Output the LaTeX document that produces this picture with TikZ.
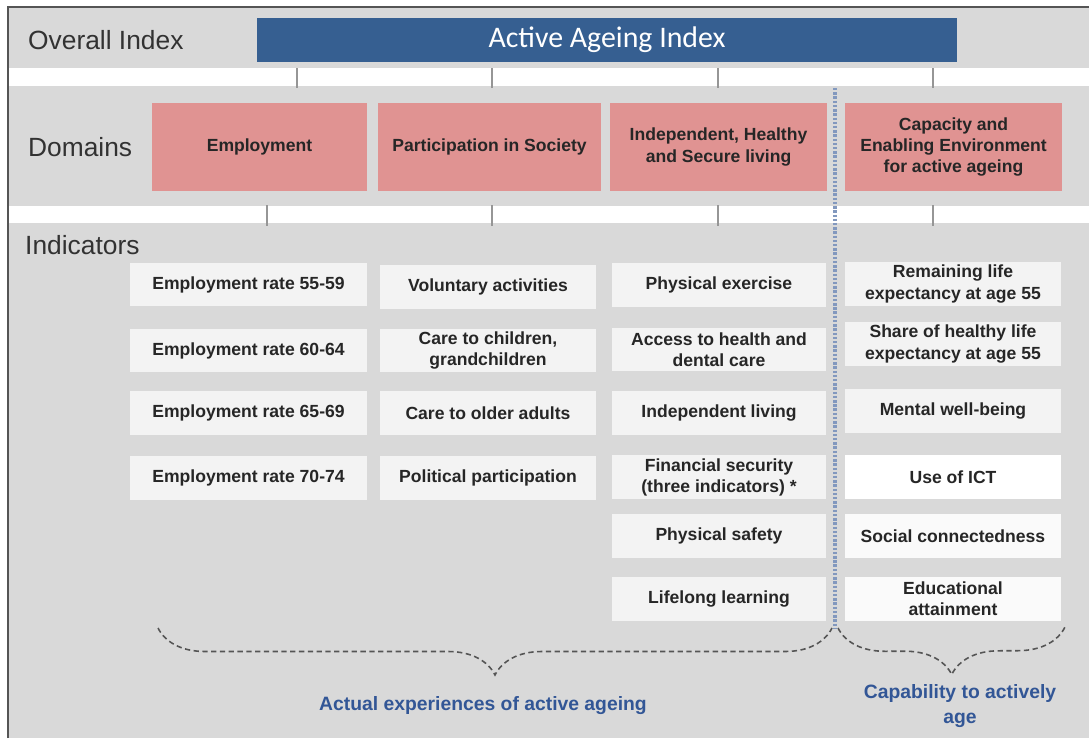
\documentclass[tikz,border=0pt]{standalone}
\usepackage{fontspec}
\setmainfont{Liberation Sans}
\newfontfamily\carlito{Carlito}
\usetikzlibrary{decorations.pathreplacing, positioning}

\definecolor{bggray}{RGB}{217,217,217}
\definecolor{framegray}{RGB}{85,85,85}
\definecolor{barblue}{RGB}{54,95,145}
\definecolor{dompink}{RGB}{224,147,146}
\definecolor{indgray}{RGB}{243,243,243}
\definecolor{labblue}{RGB}{50,86,150}
\definecolor{dotblue}{RGB}{130,152,190}
\definecolor{tickgray}{RGB}{150,150,150}
\definecolor{headgray}{RGB}{50,50,50}

\tikzset{
  head/.style={anchor=west, text=headgray, font=\fontsize{15}{18}\selectfont},
  dombox/.style={fill=dompink, minimum height=1.76cm, align=center, inner sep=1pt,
    text=black!85, font=\fontsize{10}{12}\selectfont\bfseries},
  indbox/.style={fill=indgray, minimum height=0.87cm, align=center, inner sep=1pt,
    text=black!85, font=\fontsize{10}{12}\selectfont\bfseries},
  tick/.style={tickgray, line width=0.6pt},
  curly/.style={decorate, decoration={brace, mirror, amplitude=0.94cm},
    framegray, line width=0.9pt, dash pattern=on 3pt off 2pt},
  capt/.style={text=labblue, align=center, font=\fontsize{11}{14}\selectfont\bfseries}
}

\begin{document}
\begin{tikzpicture}[x=0.02cm, y=-0.02cm]
\useasboundingbox (0,0) rectangle (1089,738);

% panels
\fill [white] (0,0) rectangle (1089,738);
\fill [bggray] (8,8) rectangle (1089,738);
\fill [white] (9,68) rectangle (1089,86);
\fill [white] (9,206) rectangle (1089,223);
\draw [framegray, line width=1.2pt] (8,738) -- (8,7) -- (1089,7);

\foreach \x in {297,492,718,933}
  \draw [tick] (\x,68) -- (\x,88);
\foreach \x in {267,492,718,933}
  \draw [tick] (\x,205) -- (\x,226);

% row titles
\node [head] (overall) at (22,40) {Overall Index};
\node [head] (domains) at (22,147) {Domains};
\node [head] (indicators) at (19,245) {Indicators};

% overall index
\node [fill=barblue, minimum width=14cm, minimum height=0.88cm, text=white,
  font=\carlito\fontsize{17}{20}\selectfont] (aai) at (607,40) {Active Ageing Index};

% domains
\node [dombox, minimum width=4.3cm] (employ) at (259.5,147) {Employment};
\node [dombox, minimum width=4.46cm] (partic) at (489.5,147) {Participation in Society};
\node [dombox, minimum width=4.34cm] (indep) at (718.5,147) {Independent, Healthy\\and Secure living};
\node [dombox, minimum width=4.34cm] (capac) at (953.5,147) {Capacity and\\Enabling Environment\\for active ageing};

% indicators
\node [indbox, minimum width=4.74cm] (emp1) at (248.5,284.5) {Employment rate 55-59};
\node [indbox, minimum width=4.74cm] (emp2) at (248.5,350.5) {Employment rate 60-64};
\node [indbox, minimum width=4.74cm] (emp3) at (248.5,413) {Employment rate 65-69};
\node [indbox, minimum width=4.74cm] (emp4) at (248.5,478) {Employment rate 70-74};

\node [indbox, minimum width=4.32cm] (soc1) at (488,287) {Voluntary activities};
\node [indbox, minimum width=4.32cm] (soc2) at (488,350.5) {Care to children,\\grandchildren};
\node [indbox, minimum width=4.32cm] (soc3) at (488,413) {Care to older adults};
\node [indbox, minimum width=4.32cm] (soc4) at (488,478) {Political participation};

\node [indbox, minimum width=4.28cm] (liv1) at (719,285) {Physical exercise};
\node [indbox, minimum width=4.28cm] (liv2) at (719,349.5) {Access to health and\\dental care};
\node [indbox, minimum width=4.28cm] (liv3) at (719,413) {Independent living};
\node [indbox, minimum width=4.28cm] (liv4) at (719,477) {Financial security\\(three indicators) *};
\node [indbox, minimum width=4.28cm] (liv5) at (719,536) {Physical safety};
\node [indbox, minimum width=4.28cm] (liv6) at (719,599) {Lifelong learning};

\node [indbox, minimum width=4.32cm] (cap1) at (953,284) {Remaining life\\expectancy at age 55};
\node [indbox, minimum width=4.32cm] (cap2) at (953,344) {Share of healthy life\\expectancy at age 55};
\node [indbox, minimum width=4.32cm] (cap3) at (953,411) {Mental well-being};
\node [indbox, minimum width=4.32cm, fill=white] (cap4) at (953,477) {Use of ICT};
\node [indbox, minimum width=4.32cm, fill=white!60!indgray] (cap5) at (953,536) {Social connectedness};
\node [indbox, minimum width=4.32cm, fill=white!60!indgray] (cap6) at (953,599) {Educational\\attainment};

% split line and braces
\coordinate (splittop) at (835,88);
\coordinate (splitbot) at (835,628);
\draw [dotblue, line width=2pt, dash pattern=on 1.4pt off 1pt] (splittop) -- (splitbot);

\coordinate (lbl) at (158,628);
\coordinate (lbr) at (832,628);
\coordinate (rbl) at (838,628);
\coordinate (rbr) at (1065,627);
\draw [curly] (lbl) -- (lbr);
\draw [curly] (rbl) -- (rbr);

\node [capt] (actual) at (483,706) {Actual experiences of active ageing};
\node [capt] (capable) at (960,706) {Capability to actively\\age};
\end{tikzpicture}
\end{document}
